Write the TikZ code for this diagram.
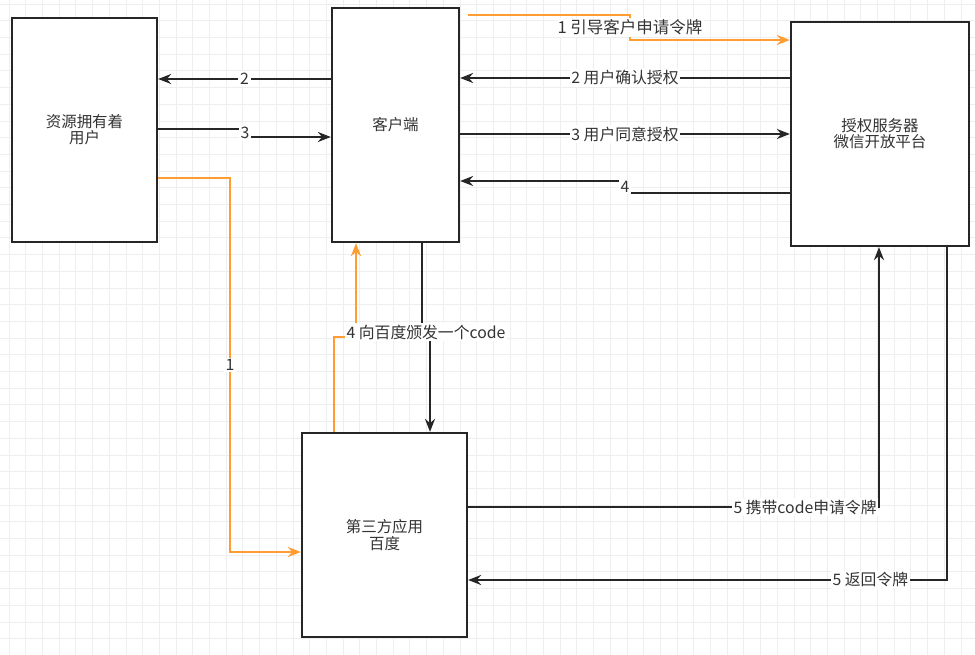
\documentclass[tikz,border=0pt]{standalone}
\usepackage{fontspec}
\setmainfont{Noto Sans CJK SC}
\usetikzlibrary{arrows.meta}
\definecolor{lineorange}{RGB}{255,157,51}
\definecolor{textgray}{RGB}{51,51,51}
\definecolor{gridgray}{RGB}{238,238,238}
\newcommand{\gridbg}{\foreach \gx in {9,25.7,...,975}{\draw[gridline] (\gx,0) -- (\gx,655);}
    \foreach \gy in {4,20.7,...,655}{\draw[gridline] (0,\gy) -- (975,\gy);}
    }

\begin{document}
\begin{tikzpicture}
                [x=0.02cm, y=-0.02cm,
                box/.style={rectangle,draw=black!85,line width=1.3pt,fill=white,align=center,text=textgray,font=\fontsize{8.8}{9.2}\selectfont},
                arrow/.style={-{Stealth[length=2.6mm,width=2mm]},line width=1.2pt,black!85},
                oarrow/.style={arrow,lineorange},
                lbl/.style={fill=white,inner sep=1pt,text=textgray,font=\fontsize{9}{10}\selectfont},
                gridline/.style={gridgray,line width=0.4pt},
                ]
                \useasboundingbox (0,0) rectangle (975,655);
                \fill[white] (0,0) rectangle (975,655);
                \gridbg
                % boxes
                \node[box, minimum width=2.9cm, minimum height=4.48cm] (owner) at (84.5,130) {资源拥有着\\用户};
                \node[box, minimum width=2.54cm, minimum height=4.68cm] (client) at (395.5,125) {客户端};
                \node[box, minimum width=3.56cm, minimum height=4.48cm] (auth) at (880,134) {授权服务器\\微信开放平台};
                \node[box, minimum width=3.3cm, minimum height=4.08cm] (third) at (384.5,535) {第三方应用\\百度};
                \coordinate (start1) at (468,15);
                % owner <-> client
                \draw[arrow] (client.west |- 0,79) -- node[lbl]{2} (owner.east |- 0,79);
                \draw[arrow] (owner.east |- 0,129) -- (245,129) -- node[lbl]{3} (245,137) -- (client.west |- 0,137);
                \draw[oarrow] (owner.east |- 0,178) -| node[lbl, pos=0.75]{1} (230,552) -- (third.west |- 0,552);
                % client <-> auth
                \draw[oarrow] (start1) -- (630,15) -- node[lbl,font=\fontsize{9.4}{10}\selectfont]{1 引导客户申请令牌} (630,40) -- (auth.west |- 0,40);
                \draw[arrow] (auth.west |- 0,78) -- node[lbl]{2 用户确认授权} (client.east |- 0,78);
                \draw[arrow] (client.east |- 0,134) -- node[lbl]{3 用户同意授权} (auth.west |- 0,134);
                \draw[arrow] (auth.west |- 0,193) -- (625,193) -- node[lbl]{4} (625,181) -- (client.east |- 0,181);
                % client <-> third
                \draw[oarrow] (third.north -| 334,0) |- (356,337) -- (client.south -| 356,0);
                \draw[arrow] (client.south -| 422,0) -- (422,332) -- node[lbl]{4 向百度颁发一个code} (430,332) -- (third.north -| 430,0);
                % third <-> auth
                \draw[arrow] (third.east |- 0,507) -| node[lbl, pos=0.41]{5 携带code申请令牌} (auth.south -| 879,0);
                \draw[arrow] (auth.south -| 947,0) |- node[lbl, pos=0.58]{5 返回令牌} (third.east |- 0,580);
            \end{tikzpicture}
\end{document}
